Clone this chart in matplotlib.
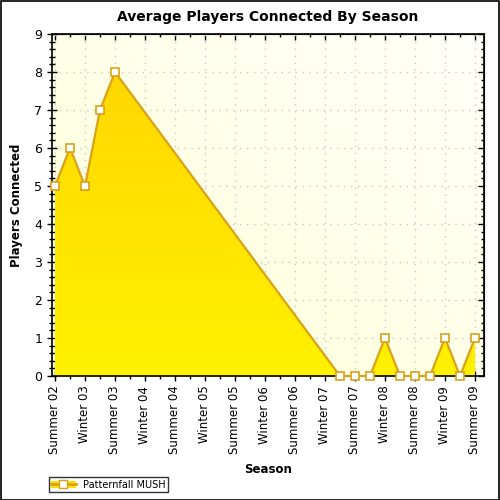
import numpy as np
import matplotlib
matplotlib.use("Agg")
import matplotlib.pyplot as plt
from matplotlib.ticker import MultipleLocator, NullFormatter
from matplotlib.lines import Line2D
from matplotlib.patches import Patch

# season tick labels (every other category is labelled)
tick_labels = ["Summer 02", "Winter 03", "Summer 03", "Winter 04", "Summer 04",
               "Winter 05", "Summer 05", "Winter 06", "Summer 06", "Winter 07",
               "Summer 07", "Winter 08", "Summer 08", "Winter 09", "Summer 09"]
# category index of each data point (half steps = the unlabelled seasons)
season_idx = [0, 1, 2, 3, 4, 19, 20, 21, 22, 23, 24, 25, 26, 27, 28]
players = [5, 6, 5, 7, 8, 0, 0, 0, 1, 0, 0, 0, 1, 0, 1]

line_col = "#D9A21B"

fig = plt.figure(figsize=(5, 5), dpi=100)
fig.patch.set_facecolor("white")
ax = fig.add_axes([0.104, 0.248, 0.864, 0.684])

x0, x1 = -0.2, 28.6
y0, y1 = 0, 9
ax.set_xlim(x0, x1)
ax.set_ylim(y0, y1)

# background gradient: light yellow at bottom-left to near white at top-right
gx, gy = np.meshgrid(np.linspace(0, 1, 200), np.linspace(0, 1, 200))
t = np.clip((gx + gy) / 2, 0, 1)
bg = np.zeros((200, 200, 3))
bg[..., 0] = 1.0
bg[..., 1] = 1.0
bg[..., 2] = 0.84 + 0.14 * t
ax.imshow(bg, extent=[x0, x1, y0, y1], origin="lower", aspect="auto", zorder=0)

ax.grid(True, which="major", color="#c8c8c8", linestyle=(0, (1, 4)), linewidth=1)
ax.set_axisbelow(True)

# area with vertical gradient: gold top to yellow bottom
poly = ax.fill_between(season_idx, players, 0, color="none", zorder=2)
grad = np.zeros((200, 1, 3))
v = np.linspace(0, 1, 200)[:, None]
grad[..., 0] = 1.0
grad[..., 1] = (0.945 - 0.10 * v)
grad[..., 2] = 0.0
im = ax.imshow(grad, extent=[x0, x1, y0, 8], origin="lower", aspect="auto", zorder=2)
im.set_clip_path(poly.get_paths()[0], transform=ax.transData)

ax.plot(season_idx, players, color=line_col, linewidth=1.6, zorder=3,
        marker="s", markersize=6, markerfacecolor="white",
        markeredgecolor=line_col, markeredgewidth=1.2, clip_on=False)

ax.set_xticks(range(0, 29, 2))
ax.set_xticklabels(tick_labels, rotation=90, fontsize=8.5)
ax.xaxis.set_minor_locator(MultipleLocator(1))
ax.yaxis.set_major_locator(MultipleLocator(1))
ax.yaxis.set_minor_locator(MultipleLocator(0.2))
ax.tick_params(axis="y", labelsize=9)
ax.tick_params(which="major", direction="inout", length=7, width=1)
ax.tick_params(which="minor", direction="inout", length=4, width=1)
for sp in ax.spines.values():
    sp.set_linewidth(1.2)

# inward ticks on top and right
top = ax.secondary_xaxis("top")
top.set_xticks(range(0, 29, 2))
top.xaxis.set_minor_locator(MultipleLocator(1))
top.xaxis.set_major_formatter(NullFormatter())
top.tick_params(which="major", direction="in", length=4, width=1)
top.tick_params(which="minor", direction="in", length=2, width=1)
right = ax.secondary_yaxis("right")
right.yaxis.set_major_locator(MultipleLocator(1))
right.yaxis.set_minor_locator(MultipleLocator(0.2))
right.yaxis.set_major_formatter(NullFormatter())
right.tick_params(which="major", direction="in", length=4, width=1)
right.tick_params(which="minor", direction="in", length=2, width=1)

ax.set_title("Average Players Connected By Season", fontsize=10, fontweight="bold", pad=9)
ax.set_xlabel("Season", fontsize=8.5, fontweight="bold", labelpad=6)
ax.set_ylabel("Players Connected", fontsize=8.5, fontweight="bold", labelpad=8)

handle = (Patch(facecolor="#FFE000", edgecolor="none"),
          Line2D([], [], color=line_col, linewidth=2, marker="s", markersize=6,
                 markerfacecolor="white", markeredgecolor=line_col))
leg = fig.legend([handle], ["Patternfall MUSH"], loc="lower left",
                 bbox_to_anchor=(0.088, 0.006), fontsize=7, frameon=True,
                 fancybox=False, edgecolor="black", borderpad=0.25,
                 handlelength=2.5, handletextpad=0.8)
leg.get_frame().set_linewidth(1)

# outer border
fig.add_artist(plt.Rectangle((0.001, 0.001), 0.997, 0.997, transform=fig.transFigure,
                             fill=False, edgecolor="black", linewidth=1.2))

fig.savefig("out.png", dpi=100)
